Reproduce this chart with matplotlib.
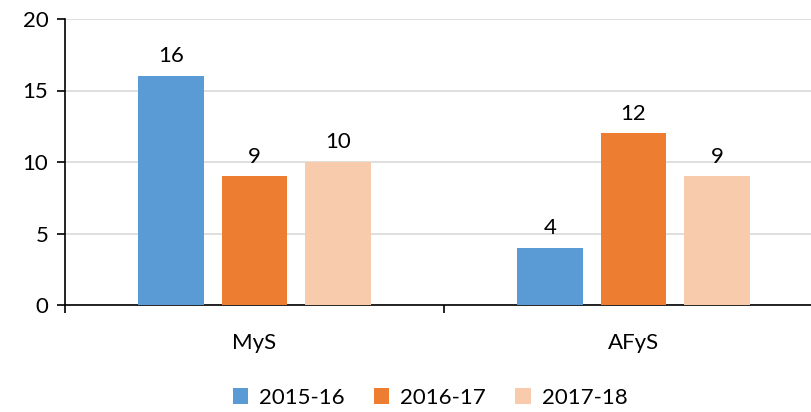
import matplotlib
matplotlib.use("Agg")
import matplotlib.pyplot as plt
import numpy as np

categories = ["MyS", "AFyS"]
series_names = ["2015-16", "2016-17", "2017-18"]
values_2015 = [16, 4]
values_2016 = [9, 12]
values_2017 = [10, 9]
colors = ["#5B9BD5", "#ED7D31", "#F8CBAD"]

plt.rcParams['font.family'] = ['Lato', 'DejaVu Sans']
FS = 16

fig = plt.figure(figsize=(8.12, 4.12), dpi=100)
ax = fig.add_axes([65/812, 1 - 305/412, (823 - 65)/812, (305 - 19)/412])

x = np.arange(len(categories))
spacing = 0.22
width = 0.174
all_vals = [values_2015, values_2016, values_2017]
for i, (vals, name, c) in enumerate(zip(all_vals, series_names, colors)):
    pos = x + (i - 1) * spacing
    bars = ax.bar(pos, vals, width, color=c, label=name, zorder=3)
    for b, v in zip(bars, vals):
        ax.annotate(str(v), (b.get_x() + b.get_width() / 2, v),
                    xytext=(0, 7), textcoords="offset points",
                    ha="center", va="bottom", fontsize=FS, color="#000000")

ax.set_xlim(-0.5, len(categories) - 0.5)
ax.set_ylim(0, 20)
ax.set_yticks([0, 5, 10, 15, 20])
ax.yaxis.grid(True, color="#D9D9D9", linewidth=1.2, zorder=0)
ax.set_axisbelow(True)

ax.set_xticks(x)
ax.set_xticklabels(categories, fontsize=FS)
ax.set_xticks([-0.5, 0.5, 1.5], minor=True)
ax.tick_params(axis="x", which="major", length=0, pad=20)
ax.tick_params(axis="x", which="minor", length=6, width=1.2, direction="out", color="black")
ax.tick_params(axis="y", length=6, width=1.2, labelsize=FS, pad=6, color="black")

for s in ["top", "right"]:
    ax.spines[s].set_visible(False)
ax.spines["left"].set_color("black")
ax.spines["bottom"].set_color("black")
ax.spines["left"].set_linewidth(1.2)
ax.spines["bottom"].set_linewidth(1.2)

leg = fig.legend(loc="center", bbox_to_anchor=(430/812, 1 - 398/412), ncol=3,
                 frameon=False, fontsize=FS, handlelength=0.7, handleheight=0.7,
                 handletextpad=0.5, columnspacing=1.3)

fig.savefig("out.png", dpi=100)
